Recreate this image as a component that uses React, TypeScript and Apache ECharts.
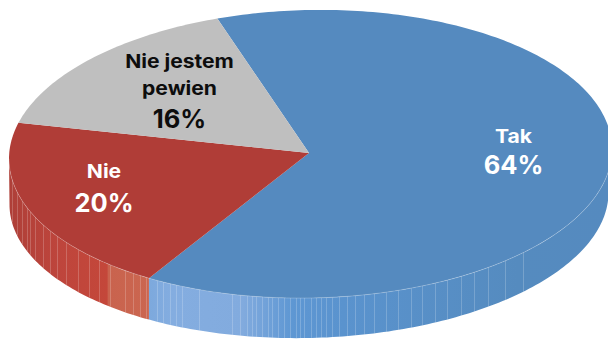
import React, { useEffect, useRef } from "react";
import * as echarts from "echarts";

const categories = ["Tak", "Nie", "Nie jestem\npewien"];
const shares = [64, 20, 16];
const topColors = ["#558ABF", "#B03D37", "#BFBFBF"];
const labelColors = ["#FFFFFF", "#FFFFFF", "#0D0D0D"];

// Where each slice's caption sits: x, and the centre y of each line
const labelAnchors = [
  { x: 513.5, lines: [136, 165] },
  { x: 104, lines: [171, 203] },
  { x: 179.5, lines: [61, 88, 119] },
];

// Vertical facet seams on the front wall of the disc, left to right
const seams = [
  12, 17, 22, 27, 30, 35, 43, 50, 57, 66, 78, 89, 99, 110, 125, 133, 140, 146, 157, 163, 170, 176,
  182, 199, 232, 240, 247, 252, 256, 262, 268, 272, 278, 284, 290, 296, 300, 304, 311, 316, 321,
  326, 332, 339, 347, 355, 364, 374, 386, 398, 411, 422, 435, 447, 461, 474, 488, 505, 523,
];

// The disc is seen slightly rolled, and its underside is further from the camera
const APEX = [309, 153];
const TOP_RIM = { cx: 310.5, cy: 154, rx: 301.5, ry: 144, roll: 0.016 };
const BOTTOM_RIM = { cx: 309, cy: 198.5, rx: 299.5, ry: 139.5, roll: 0.02 };
const START_DEG = -18;

type Rim = typeof TOP_RIM;

const rad = (d: number) => (d * Math.PI) / 180;
const rimPoint = (rim: Rim, deg: number): number[] => {
  const dx = rim.rx * Math.sin(rad(deg));
  return [rim.cx + dx, rim.cy - rim.ry * Math.cos(rad(deg)) - rim.roll * dx];
};

// Front-facing y of a rim at a given x
const rimYAt = (rim: Rim, x: number): number => {
  const dx = x - rim.cx;
  const s = Math.sqrt(Math.max(0, 1 - (dx / rim.rx) ** 2));
  return rim.cy + rim.ry * s - rim.roll * dx;
};

// Underside angle lying straight below a top-rim angle, so wall edges stay vertical
const angleBelow = (deg: number): number => {
  const x = rimPoint(TOP_RIM, deg)[0];
  const u = Math.min(1, Math.max(-1, (x - BOTTOM_RIM.cx) / BOTTOM_RIM.rx));
  return 180 - (Math.asin(u) * 180) / Math.PI;
};

function arcPoints(rim: Rim, from: number, to: number): number[][] {
  const n = Math.max(2, Math.ceil(Math.abs(to - from)));
  const out: number[][] = [];
  for (let i = 0; i <= n; i++) out.push(rimPoint(rim, from + ((to - from) * i) / n));
  return out;
}

const total = shares.reduce((a, b) => a + b, 0);
const sliceRange = (index: number): [number, number] => {
  const before = shares.slice(0, index).reduce((a, b) => a + b, 0);
  const from = START_DEG + (before / total) * 360;
  return [from, from + (shares[index] / total) * 360];
};

const wallFills = [
  new echarts.graphic.LinearGradient(
    150, 0, 609, 0,
    [
      { offset: 0, color: "#7DA9DD" },
      { offset: 0.05, color: "#84ADE0" },
      { offset: 0.2, color: "#82ABDE" },
      { offset: 0.31, color: "#5E97D3" },
      { offset: 0.42, color: "#5A93CE" },
      { offset: 0.8, color: "#558BBF" },
      { offset: 1, color: "#558ABF" },
    ],
    true
  ),
  new echarts.graphic.LinearGradient(
    9, 0, 151, 0,
    [
      { offset: 0, color: "#AE3F38" },
      { offset: 0.35, color: "#BE453C" },
      { offset: 0.69, color: "#C4473A" },
      { offset: 0.7, color: "#C9634E" },
      { offset: 1, color: "#CB6650" },
    ],
    true
  ),
];

function renderSlice(params: any) {
  const i = params.dataIndex;
  const [from, to] = sliceRange(i);
  const children: any[] = [];

  // Front wall: the part of the slice that lies on the near half of the rim
  const wallFrom = Math.max(from, 87);
  const wallTo = Math.min(to, 270);
  if (wallTo > wallFrom) {
    children.push({
      type: "polygon",
      shape: {
        points: [
          ...arcPoints(TOP_RIM, wallFrom, wallTo),
          ...arcPoints(BOTTOM_RIM, angleBelow(wallTo), angleBelow(wallFrom)),
        ],
      },
      style: { fill: wallFills[i] },
    });
    const leftX = rimPoint(TOP_RIM, wallTo)[0];
    const rightX = rimPoint(TOP_RIM, wallFrom)[0];
    seams
      .filter((x) => x > leftX && x < rightX)
      .forEach((x) => {
        children.push({
          type: "line",
          shape: {
            x1: x + 0.5,
            y1: rimYAt(TOP_RIM, x),
            x2: x + 0.5,
            y2: rimYAt(BOTTOM_RIM, x),
          },
          style: { stroke: "rgba(255,255,255,0.2)", lineWidth: 1 },
        });
      });
  }

  // Top face
  children.push({
    type: "polygon",
    shape: { points: [APEX, ...arcPoints(TOP_RIM, from, to)] },
    style: { fill: topColors[i] },
  });

  // Thin highlight along the near edge of the top face
  if (wallTo > wallFrom) {
    children.push({
      type: "polyline",
      shape: { points: arcPoints(TOP_RIM, wallFrom, wallTo) },
      style: { fill: "none", stroke: "rgba(255,255,255,0.28)", lineWidth: 0.8 },
    });
  }

  // Caption: category name(s), then the share
  const anchor = labelAnchors[i];
  const words = categories[i].split("\n");
  words.forEach((word, k) => {
    children.push({
      type: "text",
      x: anchor.x,
      y: anchor.lines[k],
      scaleX: 1.11,
      style: {
        text: word,
        fill: labelColors[i],
        font: '700 19px Inter, "Open Sans", sans-serif',
        align: "center",
        verticalAlign: "middle",
      },
    });
  });
  children.push({
    type: "text",
    x: anchor.x,
    y: anchor.lines[words.length],
    scaleX: 1.02,
    style: {
      text: `${shares[i]}%`,
      fill: labelColors[i],
      font: '700 25px Inter, "Open Sans", sans-serif',
      align: "center",
      verticalAlign: "middle",
    },
  });

  return { type: "group", children };
}

export default function App() {
  const ref = useRef<HTMLDivElement>(null);

  useEffect(() => {
    const chart = echarts.init(ref.current!, null, { renderer: "svg" });
    chart.setOption({
      animation: false,
      backgroundColor: "#FFFFFF",
      series: [
        {
          type: "custom",
          coordinateSystem: "none",
          silent: true,
          clip: false,
          data: shares.map((value, i) => ({ name: categories[i], value })),
          renderItem: renderSlice,
        },
      ],
    });
    return () => chart.dispose();
  }, []);

  return (
    <div
      ref={ref}
      style={{ position: "fixed", left: 0, top: 0, width: 608, height: 339, overflow: "hidden" }}
    />
  );
}
